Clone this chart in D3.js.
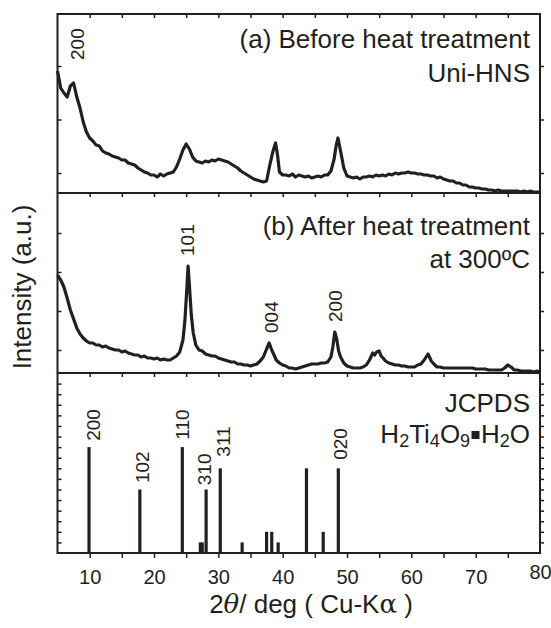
<!DOCTYPE html>
<html>
<head>
<meta charset="utf-8">
<script src="https://cdn.jsdelivr.net/npm/d3@7"></script>
<style>
body { margin: 0; background: #fff; }
text { font-family: "Liberation Sans", Arial, sans-serif; fill: #231f20; }
</style>
</head>
<body>
<script>
// 2theta ticks
const xMajor = [10, 20, 30, 40, 50, 60, 70, 80];
const xAll = [10, 15, 20, 25, 30, 35, 40, 45, 50, 55, 60, 65, 70, 75];

// (a) before heat treatment, [2theta, intensity a.u.]
const scanA = [[5.0,122],[5.3,112],[5.5,105],[6.0,100],[6.5,96],[7.0,107],[7.5,110],[8.0,96],[8.5,85],[9.0,71],[9.5,61],
  [10.0,55],[10.5,52],[11.0,48],[11.5,47],[12.0,42],[12.5,40],[13.0,39],[13.5,37],[14.0,36],[14.5,35],
  [15.0,33],[15.5,33],[16.0,30],[16.5,29],[17.0,28],[17.5,25],[18.0,23],[18.5,21],[19.0,20],[19.5,18],
  [20.0,18],[20.5,16],[21.0,19],[21.5,17],[22.0,19],[22.5,20],[23.0,21],[23.5,26],[24.0,34],[24.5,43],
  [25.0,49],[25.5,44],[26.0,36],[26.5,32],[27.0,31],[27.5,30],[28.0,32],[28.5,31],[29.0,33],[29.5,32],
  [30.0,34],[30.5,33],[31.0,32],[31.5,31],[32.0,29],[32.5,27],[33.0,25],[33.5,22],[34.0,20],[34.5,18],
  [35.0,16],[35.5,14],[36.0,13],[36.5,12],[37.0,11],[37.5,12],[38.0,28],[38.5,42],[38.9,50],[39.2,38],[39.5,21],
  [40.0,18],[40.5,18],[41.0,17],[41.5,19],[42.0,16],[42.5,18],[43.0,17],[43.5,16],[44.0,17],[44.5,15],
  [45.0,16],[45.5,17],[46.0,16],[46.5,18],[47.0,18],[47.5,22],[48.0,34],[48.3,47],[48.6,55],[49.0,42],[49.5,25],
  [50.0,17],[50.5,16],[51.0,15],[51.5,16],[52.0,14],[52.5,16],[53.0,16],[53.5,17],[54.0,16],[54.5,18],
  [55.0,17],[55.5,18],[56.0,17],[56.5,19],[57.0,18],[57.5,20],[58.0,19],[58.5,20],[59.0,20],[59.5,21],
  [60.0,20],[60.5,20],[61.0,19],[61.5,19],[62.0,18],[62.5,18],[63.0,17],[63.5,17],[64.0,15],[64.5,16],
  [65.0,14],[65.5,13],[66.0,12],[66.5,12],[67.0,10],[67.5,10],[68.0,8],[68.5,8],[69.0,6],[69.5,6],
  [70.0,5],[70.5,5],[71.0,4],[71.5,4],[72.0,3],[72.5,3],[73.0,2],[73.5,3],[74.0,2],[74.5,2],
  [75.0,2],[75.5,2],[76.0,2],[76.5,2],[77.0,1],[77.5,2],[78.0,1],[78.5,2],[79.0,1],[79.5,1],[80.0,1]];

// (b) after heat treatment at 300 C
const scanB = [[5.0,98],[5.5,93],[6.0,86],[6.5,75],[7.0,63],[7.5,54],[8.0,45],[8.5,39],[9.0,35],[9.5,32],
  [10.0,30],[10.5,30],[11.0,28],[11.5,28],[12.0,26],[12.5,27],[13.0,25],[13.5,24],[14.0,23],[14.5,23],
  [15.0,21],[15.5,22],[16.0,20],[16.5,19],[17.0,18],[17.5,18],[18.0,16],[18.5,17],[19.0,15],[19.5,15],
  [20.0,14],[20.5,15],[21.0,13],[21.5,14],[22.0,13],[22.5,13],[23.0,15],[23.5,17],[24.0,21],[24.5,33],
  [24.8,52],[25.1,84],[25.3,107],[25.5,88],[25.8,58],[26.1,40],[26.5,28],[27.0,23],[27.5,22],[28.0,19],
  [28.5,18],[29.0,17],[29.5,17],[30.0,15],[30.5,14],[31.0,13],[31.5,12],[32.0,11],[32.5,11],[33.0,9],
  [33.5,9],[34.0,8],[34.5,8],[35.0,7],[35.5,8],[36.0,9],[36.5,12],[37.0,16],[37.5,24],[37.9,30],
  [38.3,23],[38.8,16],[39.0,13],[39.5,10],[40.0,8],[40.5,7],[41.0,5],[41.5,5],[42.0,4],[42.5,5],
  [43.0,6],[43.5,7],[44.0,8],[44.5,9],[45.0,9],[45.5,9],[46.0,10],[46.5,10],[47.0,11],[47.5,16],
  [47.8,26],[48.1,41],[48.4,34],[48.7,22],[49.0,16],[49.5,10],[50.0,7],[50.5,6],[51.0,5],[51.5,5],
  [52.0,5],[52.5,6],[53.0,8],[53.5,13],[54.0,20],[54.3,18],[54.6,21],[55.0,22],[55.3,17],[55.6,15],
  [56.0,12],[56.5,10],[57.0,9],[57.5,8],[58.0,8],[58.5,7],[59.0,7],[59.5,6],[60.0,6],[60.5,6],
  [61.0,8],[61.5,9],[62.0,13],[62.6,19],[63.1,12],[63.5,9],[64.0,6],[64.5,6],[65.0,5],[65.5,5],
  [66.0,5],[66.5,5],[67.0,5],[67.5,5],[68.0,5],[68.5,5],[69.0,5],[69.5,5],[70.0,4],[70.5,4],
  [71.0,4],[71.5,4],[72.0,3],[72.5,3],[73.0,3],[73.5,3],[74.0,3],[74.5,5],[75.0,8],[75.5,6],
  [76.0,3],[76.5,3],[77.0,2],[77.5,2],[78.0,2],[78.5,2],[79.0,1],[79.5,2],[80.0,1]];

// (c) JCPDS H2Ti4O9·H2O reference lines
const refTheta = [9.9, 17.8, 24.4, 27.2, 27.5, 28.1, 30.3, 33.7, 37.5, 38.3, 39.3, 43.7, 46.3, 48.65];
const refIntensity = [100, 60, 100, 10, 10, 60, 80, 10, 20, 20, 10, 80, 20, 80];

// peak labels: hkl, 2theta position, intensity where the label starts
const hklA = ["200"], hklThetaA = [8.1], hklAtA = [133];
const hklB = ["101", "004", "200"], hklThetaB = [25.2, 38.2, 48.1], hklAtB = [117, 40, 51];
const hklC = ["200", "102", "110", "310", "311", "020"];
const hklThetaC = [10.6, 18.2, 24.4, 27.8, 30.8, 48.9];
const hklAtC = [106, 66, 107, 64, 91, 88];

// y ticks of each panel
const yTicksA = [20, 73.5, 127];
const yTicksB = [23, 62, 101, 140];
const yTicksC = [10, 20, 30, 40, 50, 60, 70, 80, 90, 100, 110, 120, 130, 140, 150, 160];

const w = 551, h = 628;
const left = 57.5, right = 540;
const ink = "#231f20";

const svg = d3.select("body").append("svg")
  .attr("width", w)
  .attr("height", h);

const x = d3.scaleLinear().domain([5, 80]).range([left, right]);
const yA = d3.scaleLinear().domain([0, 179]).range([193, 14]);
const yB = d3.scaleLinear().domain([0, 180]).range([373, 193]);
const yC = d3.scaleLinear().domain([0, 170]).range([553, 373]);

function frameAxes(y, ticks) {
  const top = y.range()[1];
  // ticks along the top edge of the panel, pointing down
  svg.append("g")
    .attr("transform", "translate(0," + top + ")")
    .call(d3.axisBottom(x).tickValues(xAll).tickSize(4).tickFormat(""))
    .call(g => g.select(".domain").remove());
  svg.append("g")
    .attr("transform", "translate(" + left + ",0)")
    .call(d3.axisRight(y).tickValues(ticks).tickSize(4).tickFormat(""))
    .call(g => g.select(".domain").remove());
  svg.append("g")
    .attr("transform", "translate(" + right + ",0)")
    .call(d3.axisRight(y).tickValues(ticks).tickSize(4).tickFormat(""))
    .call(g => g.select(".domain").remove());
}
frameAxes(yA, yTicksA);
frameAxes(yB, yTicksB);
frameAxes(yC, yTicksC);

// bottom axis
const xAxis = svg.append("g")
  .attr("transform", "translate(0,553)")
  .call(d3.axisBottom(x).tickValues(xAll).tickSize(5).tickPadding(12)
    .tickFormat(d => xMajor.includes(d) ? d : ""));
xAxis.select(".domain").remove();
xAxis.selectAll("text").attr("font-size", 20).attr("font-family", null);
svg.append("g")
  .attr("transform", "translate(0,553)")
  .call(d3.axisBottom(x).tickValues([80]).tickSize(0).tickPadding(12))
  .call(g => g.select(".domain").remove())
  .selectAll("text").attr("font-size", 20).attr("font-family", null);

svg.selectAll(".tick line").attr("stroke", ink).attr("stroke-width", 1.5);

// curves
const lineA = d3.line().x(d => x(d[0])).y(d => yA(d[1]));
const lineB = d3.line().x(d => x(d[0])).y(d => yB(d[1]));
svg.append("path").datum(scanA)
  .attr("d", lineA).attr("fill", "none").attr("stroke", ink)
  .attr("stroke-width", 3.2).attr("stroke-linejoin", "round");
svg.append("path").datum(scanB)
  .attr("d", lineB).attr("fill", "none").attr("stroke", ink)
  .attr("stroke-width", 3.2).attr("stroke-linejoin", "round");

// reference sticks
svg.selectAll(".stick")
  .data(refTheta)
  .join("line")
  .attr("class", "stick")
  .attr("x1", d => x(d)).attr("x2", d => x(d))
  .attr("y1", yC(0))
  .attr("y2", (d, i) => yC(refIntensity[i]))
  .attr("stroke", ink)
  .attr("stroke-width", 3.2);

// frame
svg.append("rect")
  .attr("x", left).attr("y", 14)
  .attr("width", right - left).attr("height", 553 - 14)
  .attr("fill", "none").attr("stroke", ink).attr("stroke-width", 2);
[193, 373].forEach(v => {
  svg.append("line")
    .attr("x1", left).attr("x2", right)
    .attr("y1", v).attr("y2", v)
    .attr("stroke", ink).attr("stroke-width", 2);
});

// hkl labels
function hkl(labels, thetas, ats, y) {
  svg.selectAll(null)
    .data(labels)
    .join("text")
    .attr("transform", (d, i) => "translate(" + x(thetas[i]) + "," + y(ats[i]) + ") rotate(-90)")
    .attr("dy", "0.36em")
    .attr("font-size", 19)
    .text(d => d);
}
hkl(hklA, hklThetaA, hklAtA, yA);
hkl(hklB, hklThetaB, hklAtB, yB);
hkl(hklC, hklThetaC, hklAtC, yC);

// panel captions
function caption(lines, baselines) {
  lines.forEach((t, i) => {
    svg.append("text")
      .attr("x", 530).attr("y", baselines[i])
      .attr("text-anchor", "end")
      .attr("font-size", 26)
      .text(t);
  });
}
caption(["(a) Before heat treatment", "Uni-HNS"], [48, 82]);
caption(["(b) After heat treatment", "at 300ºC"], [235, 268]);
caption(["JCPDS"], [412]);

const formula = svg.append("text")
  .attr("x", 530).attr("y", 443)
  .attr("text-anchor", "end")
  .attr("font-size", 26);
[["H", 0], ["2", 1], ["Ti", 0], ["4", 1], ["O", 0], ["9", 1], ["\u25AA", 2], ["H", 0], ["2", 1], ["O", 0]]
  .forEach(([t, k]) => {
    const s = formula.append("tspan").text(t);
    if (k === 1) s.attr("baseline-shift", "-22%").attr("font-size", 18);
    if (k === 2) s.attr("font-family", "DejaVu Sans").attr("font-size", 16).attr("baseline-shift", "25%");
  });

// axis titles
const xt = svg.append("text")
  .attr("x", 311).attr("y", 613)
  .attr("text-anchor", "middle")
  .attr("font-size", 26);
xt.append("tspan").text("2");
xt.append("tspan").text("\u03B8").attr("font-style", "italic").attr("font-family", "DejaVu Serif");
xt.append("tspan").text("/ deg ( Cu-K");
xt.append("tspan").text("\u03B1").attr("font-family", "DejaVu Serif");
xt.append("tspan").text(" )");

svg.append("text")
  .attr("transform", "translate(31,287) rotate(-90)")
  .attr("text-anchor", "middle")
  .attr("font-size", 26)
  .text("Intensity (a.u.)");
</script>
</body>
</html>
